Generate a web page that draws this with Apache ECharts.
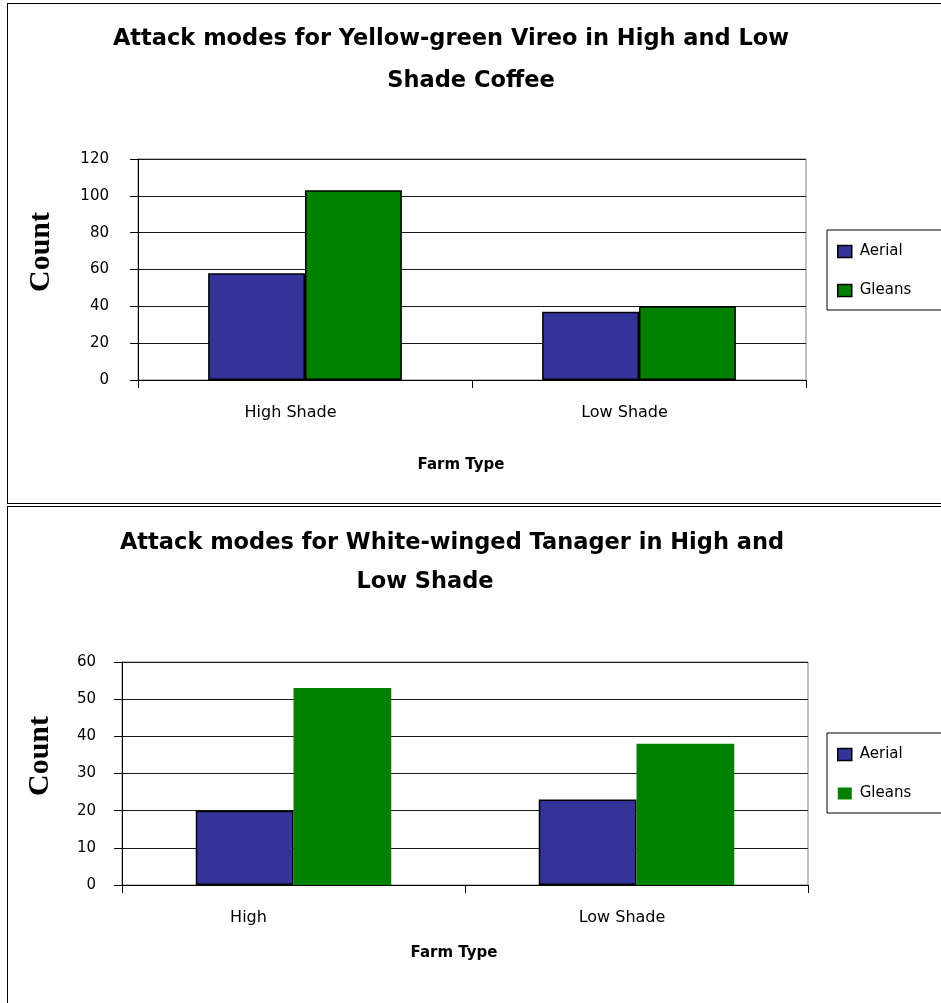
<!DOCTYPE html>
<html>
<head>
<meta charset="utf-8">
<title>Attack modes</title>
<script src="https://cdn.jsdelivr.net/npm/echarts@6/dist/echarts.min.js"></script>
<style>
  html, body { margin: 0; padding: 0; background: #fff; overflow: hidden; }
  #chart { position: absolute; left: 0; top: 0; width: 941px; height: 1003px; }
  .frame { position: absolute; border: 1px solid #000; border-right: none; pointer-events: none; }
</style>
</head>
<body>
<div id="chart"></div>
<div class="frame" style="left:7px;top:3px;width:960px;height:499px;"></div>
<div class="frame" style="left:7px;top:506px;width:960px;height:520px;border-bottom:none;"></div>
<script>
// Yellow-green Vireo: attack counts by farm type
const vireoCategories = ['High Shade', 'Low Shade'];
const vireoAerial = [58, 37];
const vireoGleans = [103, 40];
const vireoAxis = { min: 0, max: 120, interval: 20 };

// White-winged Tanager: attack counts by farm type
const tanagerCategories = ['High', 'Low Shade'];
const tanagerAerial = [20, 23];
const tanagerGleans = [53, 38];
const tanagerAxis = { min: 0, max: 60, interval: 10 };

const seriesNames = ['Aerial', 'Gleans'];
const COLORS = { Aerial: '#333399', Gleans: '#008000' };

const SANS = 'DejaVu Sans';
const SERIF = 'Liberation Serif';

// label shift (right padding) per category, keeps labels a bit left of the bar groups
const vireoLabelPad = [29, 29];
const tanagerLabelPad = [90, 29];

function categoryData(names, pads) {
  return names.map((n, i) => ({ value: n, textStyle: { padding: [0, pads[i], 0, 0] } }));
}

function xAxisFor(gridIndex, names, pads, nameGap) {
  return {
    type: 'category',
    gridIndex: gridIndex,
    data: categoryData(names, pads),
    axisLine: { show: true, lineStyle: { color: '#000', width: 1 } },
    axisTick: { show: true, length: 8, lineStyle: { color: '#000', width: 1 } },
    axisLabel: { margin: 25, fontFamily: SANS, fontSize: 16, color: '#000' },
    splitLine: { show: false },
    name: 'Farm Type',
    nameLocation: 'middle',
    nameGap: nameGap,
    nameTextStyle: { fontFamily: SANS, fontSize: 15, fontWeight: 'bold', color: '#000', padding: [0, 22, 0, 0] }
  };
}

function yAxisFor(gridIndex, scale, margin, nameGap) {
  return {
    type: 'value',
    gridIndex: gridIndex,
    min: scale.min,
    max: scale.max,
    interval: scale.interval,
    axisLine: { show: true, lineStyle: { color: '#000', width: 1 } },
    axisTick: { show: true, length: 8, lineStyle: { color: '#000', width: 1 } },
    axisLabel: { margin: margin, fontFamily: SANS, fontSize: 15, color: '#000' },
    splitLine: { show: true, lineStyle: { color: '#1a1a1a', width: 1 } },
    name: 'Count',
    nameLocation: 'middle',
    nameRotate: 90,
    nameGap: nameGap,
    nameTextStyle: { fontFamily: SERIF, fontSize: 30, fontWeight: 'bold', color: '#000', padding: [0, 0, 0, 35] }
  };
}

function barSeries(name, axisIndex, data, gap, bordered) {
  return {
    type: 'bar',
    name: name,
    xAxisIndex: axisIndex,
    yAxisIndex: axisIndex,
    data: data,
    barGap: '0%',
    barCategoryGap: gap,
    itemStyle: {
      color: COLORS[name],
      borderColor: bordered ? '#000' : COLORS[name],
      borderWidth: bordered ? 1.5 : 0
    },
    emphasis: { disabled: true }
  };
}

function legendFor(top, gleansBorder) {
  return {
    orient: 'vertical',
    left: 827,
    top: top,
    padding: [14, 40, 12, 10],
    itemGap: 24,
    itemWidth: 14,
    itemHeight: 12,
    icon: 'rect',
    borderColor: '#000',
    borderWidth: 1,
    selectedMode: false,
    textStyle: { fontFamily: SANS, fontSize: 15, color: '#000', padding: [0, 0, 0, 3] },
    data: [
      { name: seriesNames[0], itemStyle: { borderColor: '#000', borderWidth: 1.5 } },
      { name: seriesNames[1], itemStyle: gleansBorder ? { borderColor: '#000', borderWidth: 1.5 } : { borderWidth: 0 } }
    ]
  };
}

const titleStyle = { fontFamily: SANS, fontSize: 22.5, fontWeight: 'bold', color: '#000' };

const option = {
  backgroundColor: '#fff',
  animation: false,
  title: [
    { text: 'Attack modes for Yellow-green Vireo in High and Low', left: 451, top: 28, textAlign: 'center', padding: 0, textStyle: titleStyle },
    { text: 'Shade Coffee', left: 471, top: 70, textAlign: 'center', padding: 0, textStyle: titleStyle },
    { text: 'Attack modes for White-winged Tanager in High and', left: 452, top: 532, textAlign: 'center', padding: 0, textStyle: titleStyle },
    { text: 'Low Shade', left: 425, top: 571, textAlign: 'center', padding: 0, textStyle: titleStyle }
  ],
  legend: [legendFor(230, true), legendFor(733, false)],
  grid: [
    { left: 138, top: 159, width: 668, height: 221, show: true, borderColor: '#808080', borderWidth: 1, backgroundColor: 'transparent' },
    { left: 122, top: 662, width: 686, height: 223, show: true, borderColor: '#808080', borderWidth: 1, backgroundColor: 'transparent' }
  ],
  xAxis: [
    xAxisFor(0, vireoCategories, vireoLabelPad, 78),
    xAxisFor(1, tanagerCategories, tanagerLabelPad, 61)
  ],
  yAxis: [
    yAxisFor(0, vireoAxis, 29, 82),
    yAxisFor(1, tanagerAxis, 26, 67)
  ],
  series: [
    barSeries('Aerial', 0, vireoAerial, '42%', true),
    barSeries('Gleans', 0, vireoGleans, '42%', true),
    barSeries('Aerial', 1, tanagerAerial, '43%', true),
    barSeries('Gleans', 1, tanagerGleans, '43%', false)
  ]
};

const chart = echarts.init(document.getElementById('chart'), null, { renderer: 'canvas' });
chart.setOption(option);
</script>
</body>
</html>
